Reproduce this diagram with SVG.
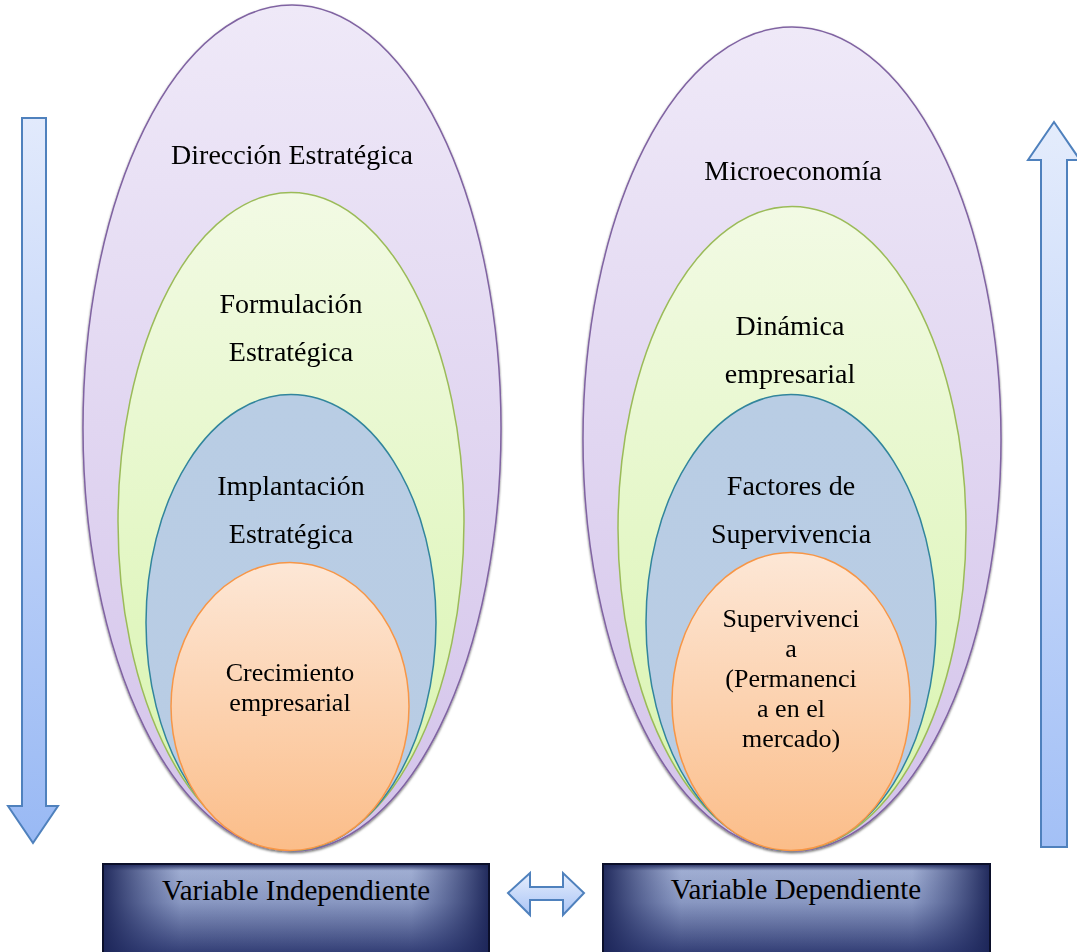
<svg xmlns="http://www.w3.org/2000/svg" width="1077" height="952" viewBox="0 0 1077 952">
  <defs>
    <linearGradient id="gPurple" x1="0" y1="0" x2="0" y2="1">
      <stop offset="0" stop-color="#efe9f8"/>
      <stop offset="1" stop-color="#d3c3ea"/>
    </linearGradient>
    <linearGradient id="gGreen" x1="0" y1="0" x2="0" y2="1">
      <stop offset="0" stop-color="#f2fae4"/>
      <stop offset="1" stop-color="#d8f4ad"/>
    </linearGradient>
    <linearGradient id="gBlue" x1="0" y1="0" x2="0" y2="1">
      <stop offset="0" stop-color="#b9cde4"/>
      <stop offset="1" stop-color="#b8cce4"/>
    </linearGradient>
    <linearGradient id="gOrange" x1="0" y1="0" x2="0" y2="1">
      <stop offset="0" stop-color="#fde7d6"/>
      <stop offset="1" stop-color="#fbbd89"/>
    </linearGradient>
    <linearGradient id="gArrowDown" x1="0" y1="0" x2="0" y2="1">
      <stop offset="0" stop-color="#e2eafc"/>
      <stop offset="1" stop-color="#99b9f4"/>
    </linearGradient>
    <linearGradient id="gArrowUp" x1="0" y1="0" x2="0" y2="1">
      <stop offset="0" stop-color="#e4ecfc"/>
      <stop offset="1" stop-color="#a3c0f6"/>
    </linearGradient>
    <linearGradient id="gArrowH" x1="0" y1="0" x2="0" y2="1">
      <stop offset="0" stop-color="#e6eefd"/>
      <stop offset="1" stop-color="#a9c4f5"/>
    </linearGradient>
    <linearGradient id="gBoxV" x1="0" y1="0" x2="0" y2="1">
      <stop offset="0" stop-color="#1e275a"/>
      <stop offset="0.07" stop-color="#a9b7da"/>
      <stop offset="0.4" stop-color="#909fc8"/>
      <stop offset="1" stop-color="#26316a"/>
    </linearGradient>
    <linearGradient id="gBoxH" x1="0" y1="0" x2="1" y2="0">
      <stop offset="0" stop-color="#1c2558" stop-opacity="0.95"/>
      <stop offset="0.2" stop-color="#2f3b74" stop-opacity="0.08"/>
      <stop offset="0.8" stop-color="#2f3b74" stop-opacity="0.08"/>
      <stop offset="1" stop-color="#1c2558" stop-opacity="0.95"/>
    </linearGradient>
    <filter id="shadow" x="-5%" y="-5%" width="110%" height="110%">
      <feDropShadow dx="0" dy="1.5" stdDeviation="1.2" flood-color="#000" flood-opacity="0.55"/>
    </filter>
  </defs>
  <style>
    .t { font-family: "Liberation Serif", "Times New Roman", serif; fill: #000; text-anchor: middle; }
    .big { font-size: 28px; }
    .mid { font-size: 26px; }
    .box { font-size: 29px; }
    .purple { fill: url(#gPurple); stroke: #8064a2; stroke-width: 1.5; }
    .green { fill: url(#gGreen); stroke: #9bbb59; stroke-width: 1.5; }
    .blue { fill: url(#gBlue); stroke: #31859c; stroke-width: 1.5; }
    .orange { fill: url(#gOrange); stroke: #f79646; stroke-width: 1.5; }
    .arrow { stroke: #4f81bd; stroke-width: 2; stroke-linejoin: miter; }
    .vbox { stroke: #0b0f2a; stroke-width: 2; }
  </style>

  <!-- Left stack: independent variable -->
  <g id="left-stack" filter="url(#shadow)">
    <g id="direccion">
      <ellipse class="purple" cx="292" cy="428" rx="209" ry="423"/>
      <text class="t big" x="292" y="164">Dirección Estratégica</text>
    </g>
    <g id="formulacion">
      <ellipse class="green" cx="291" cy="521.5" rx="173" ry="329"/>
      <text class="t big" x="291" y="313">Formulación</text>
      <text class="t big" x="291" y="361">Estratégica</text>
    </g>
    <g id="implantacion">
      <ellipse class="blue" cx="291" cy="622.5" rx="145" ry="228"/>
      <text class="t big" x="291" y="495">Implantación</text>
      <text class="t big" x="291" y="543">Estratégica</text>
    </g>
    <g id="crecimiento">
      <ellipse class="orange" cx="290" cy="706.5" rx="119" ry="144"/>
      <text class="t mid" x="290" y="681">Crecimiento</text>
      <text class="t mid" x="290" y="711">empresarial</text>
    </g>
  </g>

  <!-- Right stack: dependent variable -->
  <g id="right-stack" filter="url(#shadow)">
    <g id="microeconomia">
      <ellipse class="purple" cx="792" cy="439" rx="209" ry="412"/>
      <text class="t big" x="793" y="180">Microeconomía</text>
    </g>
    <g id="dinamica">
      <ellipse class="green" cx="792" cy="528.5" rx="174" ry="322"/>
      <text class="t big" x="790" y="335">Dinámica</text>
      <text class="t big" x="790" y="383">empresarial</text>
    </g>
    <g id="factores">
      <ellipse class="blue" cx="791" cy="622.5" rx="145" ry="228"/>
      <text class="t big" x="791" y="495">Factores de</text>
      <text class="t big" x="791" y="543">Supervivencia</text>
    </g>
    <g id="supervivencia">
      <ellipse class="orange" cx="791" cy="701.5" rx="119" ry="149"/>
      <text class="t mid" x="791" y="627">Supervivenci</text>
      <text class="t mid" x="791" y="657">a</text>
      <text class="t mid" x="791" y="687">(Permanenci</text>
      <text class="t mid" x="791" y="717">a en el</text>
      <text class="t mid" x="791" y="747">mercado)</text>
    </g>
  </g>

  <!-- Variable boxes -->
  <g id="variable-independiente">
    <rect class="vbox" x="103" y="864" width="386" height="96" fill="url(#gBoxV)"/>
    <rect x="104" y="865" width="384" height="94" fill="url(#gBoxH)"/>
    <text class="t box" x="296" y="900">Variable Independiente</text>
  </g>
  <g id="variable-dependiente">
    <rect class="vbox" x="603" y="864" width="387" height="96" fill="url(#gBoxV)"/>
    <rect x="604" y="865" width="385" height="94" fill="url(#gBoxH)"/>
    <text class="t box" x="796" y="899">Variable Dependiente</text>
  </g>

  <!-- Connectors -->
  <g id="connectors">
    <path class="arrow" fill="url(#gArrowDown)" d="M22 118 H46 V806 H58 L33 843 L8 806 H22 Z"/>
    <path class="arrow" fill="url(#gArrowUp)" d="M1054 122 L1080 160 H1067 V847 H1041 V160 H1028 Z"/>
    <path class="arrow" fill="url(#gArrowH)" d="M508 893 L530 873 V887 H563 V873 L584 893 L563 915 V900 H530 V915 Z"/>
  </g>
</svg>
